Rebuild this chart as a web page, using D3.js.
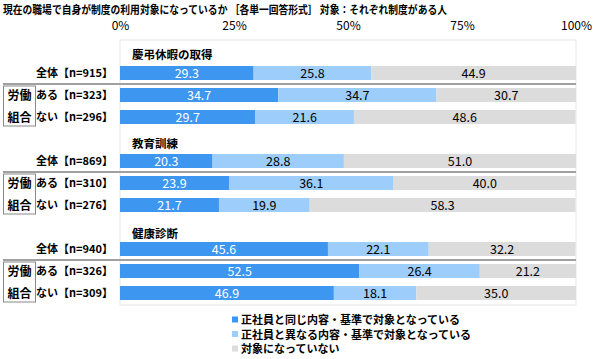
<!DOCTYPE html>
<html><head><meta charset="utf-8">
<script src="https://cdn.jsdelivr.net/npm/d3@7"></script>
<style>
body{margin:0;background:#fff;}
svg{display:block;}
text{font-family:"Noto Sans CJK JP","Noto Sans",sans-serif;}
</style></head>
<body>
<svg id="chart" width="600" height="359"></svg>
<script>
const title = "現在の職場で自身が制度の利用対象になっているか ［各単一回答形式］ 対象：それぞれ制度がある人";
const groups = ["慶弔休暇の取得", "教育訓練", "健康診断"];
const rowLabels = ["全体", "ある", "ない"];
const nValues = [[915, 323, 296], [869, 310, 276], [940, 326, 309]];
const seriesNames = ["正社員と同じ内容・基準で対象となっている", "正社員と異なる内容・基準で対象となっている", "対象になっていない"];
const seriesColors = ["#3d96f0", "#9dcdfb", "#dcdcdc"];
const labelColors = ["#ffffff", "#000000", "#000000"];
const sameValues = [[29.3, 34.7, 29.7], [20.3, 23.9, 21.7], [45.6, 52.5, 46.9]];
const diffValues = [[25.8, 34.7, 21.6], [28.8, 36.1, 19.9], [22.1, 26.4, 18.1]];
const notValues = [[44.9, 30.7, 48.6], [51.0, 40.0, 58.3], [32.2, 21.2, 35.0]];
const tickValues = [0, 25, 50, 75, 100];
const unionLabel = ["労働", "組合"];

const svg = d3.select("#chart");
const x = d3.scaleLinear().domain([0, 100]).range([120, 576]);

const rowKeys = [];
groups.forEach((g, gi) => { rowKeys.push("t" + gi); rowLabels.forEach((r, ri) => rowKeys.push("r" + gi + "_" + ri)); });
const y = d3.scaleBand().domain(rowKeys).range([40, 304]);
const barH = 14;

svg.append("rect").attr("x", x(0)).attr("y", 40).attr("width", x(100) - x(0)).attr("height", 265)
  .attr("fill", "none").attr("stroke", "#e6e6e6").attr("stroke-width", 1);

svg.append("text").attr("x", 3).attr("y", 14).attr("font-size", 11).attr("font-weight", "bold")
  .attr("textLength", 444).attr("lengthAdjust", "spacingAndGlyphs").text(title);

const axis = d3.axisTop(x).tickValues(tickValues).tickFormat(d => d + "%").tickSize(0).tickPadding(0);
const ax = svg.append("g").attr("transform", "translate(0,30)").call(axis);
ax.select(".domain").remove();
ax.selectAll("text").attr("fill", "#000")
  .attr("font-family", "'Liberation Sans Narrow','Liberation Sans',sans-serif").attr("font-size", 12);

const fmt = d3.format(".1f");

groups.forEach((g, gi) => {
  svg.append("text").attr("x", 132).attr("y", y("t" + gi) + y.bandwidth() / 2 + 7.5 + gi * 1.5)
    .attr("font-size", 11.5).attr("font-weight", "bold").text(g);

  rowLabels.forEach((r, ri) => {
    const key = "r" + gi + "_" + ri;
    const cy = y(key) + y.bandwidth() / 2;
    const vals = [sameValues[gi][ri], diffValues[gi][ri], notValues[gi][ri]];
    let acc = 0;
    vals.forEach((v, si) => {
      const x0 = x(acc), x1 = x(Math.min(acc + v, 100));
      svg.append("rect").attr("x", x0).attr("y", cy - barH / 2).attr("width", x1 - x0).attr("height", barH)
        .attr("fill", seriesColors[si]);
      svg.append("text").attr("x", (x0 + x1) / 2).attr("y", cy + 4.5).attr("text-anchor", "middle")
        .attr("font-family", "'Liberation Sans',Arial,sans-serif").attr("font-size", 12.5)
        .attr("fill", labelColors[si]).text(fmt(v));
      acc += v;
    });
    svg.append("text").attr("x", 113).attr("y", cy + 4).attr("text-anchor", "end")
      .attr("font-size", 11).attr("font-weight", "bold").text(r + "【n=" + nValues[gi][ri] + "】");
  });

  const sepY = (y("r" + gi + "_0") + y("r" + gi + "_1") + y.bandwidth()) / 2;
  svg.append("line").attr("x1", 3).attr("x2", x(100)).attr("y1", sepY).attr("y2", sepY)
    .attr("stroke", "#a0a0a0").attr("stroke-width", 2);

  const by0 = y("r" + gi + "_1") + 2, by1 = y("r" + gi + "_2") + y.bandwidth() - 2;
  svg.append("rect").attr("x", 3.5).attr("y", by0).attr("width", 32).attr("height", by1 - by0)
    .attr("fill", "#fff").attr("stroke", "#888").attr("stroke-width", 1);
  unionLabel.forEach((t, ti) => {
    svg.append("text").attr("x", 19.5).attr("y", y("r" + gi + "_" + (ti + 1)) + y.bandwidth() / 2 + 4.5)
      .attr("text-anchor", "middle").attr("font-size", 12).attr("font-weight", "bold").text(t);
  });
});

const legY = [320, 334.5, 349];
seriesNames.forEach((s, si) => {
  svg.append("rect").attr("x", 232).attr("y", legY[si] - 3.5).attr("width", 6).attr("height", 6).attr("fill", seriesColors[si]);
  svg.append("text").attr("x", 241).attr("y", legY[si] + 4).attr("font-size", 11).attr("font-weight", "bold").text(s);
});
</script>
</body></html>
